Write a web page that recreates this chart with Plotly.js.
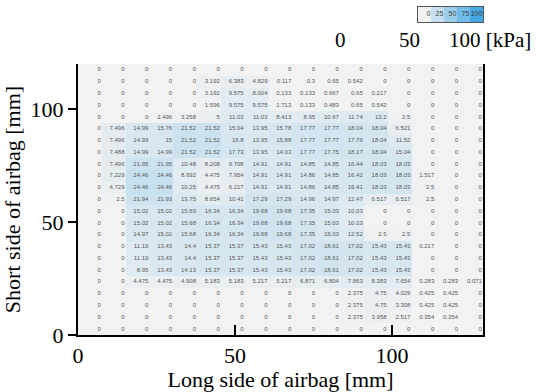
<!DOCTYPE html>
<html><head><meta charset="utf-8">
<script src="https://cdn.plot.ly/plotly-3.0.1.min.js"></script>
<style>html,body{margin:0;padding:0;background:#fff}</style>
</head><body><div id="chart" style="width:555px;height:392px"></div>
<script>
// Pressure table [kPa], rows listed from top (y high) to bottom (y = 0)
const row01 = [0,0,0,0,0,0,0,0,0,0,0,0,0,0,0,0,0];
const row02 = [0,0,0,0,0,3.192,6.383,4.829,0.117,0.3,0.65,0.542,0,0,0,0,0];
const row03 = [0,0,0,0,0,3.192,9.575,8.004,0.133,0.133,0.667,0.65,0.217,0,0,0,0];
const row04 = [0,0,0,0,0,1.596,9.575,9.575,1.713,0.133,0.483,0.65,0.542,0,0,0,0];
const row05 = [0,0,0,2.496,3.258,5,11.03,11.03,8.413,8.95,10.67,11.74,13.2,2.5,0,0,0];
const row06 = [0,7.496,14.99,15.76,21.52,21.52,15.04,13.95,15.78,17.77,17.77,18.04,18.04,6.521,0,0,0];
const row07 = [0,7.496,14.99,15,21.52,21.52,16.8,13.95,15.88,17.77,17.77,17.76,18.04,11.52,0,0,0];
const row08 = [0,7.488,14.99,14.99,21.52,21.52,17.73,13.95,14.03,17.77,17.75,18.17,18.04,15.04,0,0,0];
const row09 = [0,7.496,21.95,21.95,10.48,8.208,9.708,14.91,14.91,14.85,14.85,16.44,18.03,18.03,0,0,0];
const row10 = [0,7.229,24.46,24.46,8.692,4.475,7.954,14.91,14.91,14.86,14.85,16.42,18.03,18.03,1.517,0,0];
const row11 = [0,4.729,24.46,24.46,10.25,4.475,6.217,14.91,14.91,14.86,14.85,16.41,18.03,18.03,2.5,0,0];
const row12 = [0,2.5,21.94,21.93,13.75,8.654,10.41,17.29,17.29,14.96,14.97,12.47,6.517,6.517,2.5,0,0];
const row13 = [0,0,15.02,15.02,15.69,16.34,16.34,19.68,19.68,17.35,15.03,10.03,0,0,0,0,0];
const row14 = [0,0,15.02,15.02,15.68,16.34,16.34,19.68,19.68,17.35,15.03,10.03,0,0,0,0,0];
const row15 = [0,0,14.97,15.02,15.68,16.34,16.34,19.68,19.68,17.35,15.03,12.52,2.5,2.5,0,0,0];
const row16 = [0,0,11.19,13.43,14.4,15.37,15.37,15.43,15.43,17.02,18.61,17.02,15.43,15.43,0.217,0,0];
const row17 = [0,0,11.19,13.43,14.4,15.37,15.37,15.43,15.43,17.02,18.61,17.02,15.43,15.43,0,0,0];
const row18 = [0,0,8.95,13.43,14.13,15.37,15.37,15.43,15.43,17.02,18.61,17.02,15.43,15.43,0,0,0];
const row19 = [0,0,4.475,4.475,4.908,5.183,5.183,5.217,5.217,6.871,6.804,7.863,8.383,7.654,0.283,0.283,0.071];
const row20 = [0,0,0,0,0,0,0,0,0,0,0,2.375,4.75,4.029,0.425,0.425,0];
const row21 = [0,0,0,0,0,0,0,0,0,0,0,2.375,4.75,3.308,0.425,0.425,0];
const row22 = [0,0,0,0,0,0,0,0,0,0,0,2.375,3.958,2.517,0.354,0.354,0];
const row23 = [0,0,0,0,0,0,0,0,0,0,0,0,0,0,0,0,0];

const scaleValues = [0,25,50,75,100];
const scaleTickLabels = ['0','50','100 [kPa]'];
const xTicks = [0,50,100];
const yTicks = [0,50,100];

const rowsTopDown = [row01,row02,row03,row04,row05,row06,row07,row08,row09,row10,row11,row12,
  row13,row14,row15,row16,row17,row18,row19,row20,row21,row22,row23];
const z = rowsTopDown.slice().reverse();

const nCols = z[0].length, nRows = z.length;
const xMax = 129, yMax = 120;
const cw = xMax / nCols, ch = yMax / nRows;

const tx = [], ty = [], tt = [];
for (let r = 0; r < nRows; r++) for (let c = 0; c < nCols; c++) {
  tx.push((c + 1) * cw - 0.35); ty.push((r + 0.5) * ch); tt.push(String(z[r][c]));
}
const cs = [[0,'#f2f2f2'],[1,'#44a8e4']];
const serif = 'Liberation Serif, Times New Roman, serif';
const cellFont = {family:'Liberation Sans, Arial, sans-serif', size:6, color:'#595959'};

const traces = [
  {type:'heatmap', z:z, x0:cw/2, dx:cw, y0:ch/2, dy:ch, zmin:0, zmax:100,
   colorscale:cs, showscale:false, hoverinfo:'skip', xaxis:'x', yaxis:'y'},
  {type:'scatter', mode:'text', x:tx, y:ty, text:tt, textposition:'middle left',
   textfont:cellFont, hoverinfo:'skip', showlegend:false, xaxis:'x', yaxis:'y'},
  {type:'heatmap', z:[scaleValues], x0:0.5, dx:1, y0:0, dy:1, zmin:0, zmax:100,
   colorscale:cs, showscale:false, hoverinfo:'skip', xaxis:'x2', yaxis:'y2'},
  {type:'scatter', mode:'text', x:scaleValues.map((v,i)=>i+0.95), y:scaleValues.map(()=>0),
   text:scaleValues.map(String), textposition:'middle left',
   textfont:{family:'Liberation Sans, Arial, sans-serif', size:7, color:'#404040'},
   hoverinfo:'skip', showlegend:false, xaxis:'x2', yaxis:'y2'}
];

const H = 392, T = 5, B = 57, plotH = H - T - B;
const px2p = p => (H - B - p) / plotH;

const layout = {
  width:555, height:392, margin:{l:78, r:72, t:T, b:B},
  paper_bgcolor:'#fff', plot_bgcolor:'#fff', showlegend:false,
  xaxis:{range:[0,xMax], tickvals:xTicks, ticks:'inside', ticklen:10, tickwidth:2, tickcolor:'#000',
    showline:true, linewidth:2, linecolor:'#000', showgrid:false, zeroline:false,
    tickfont:{family:serif, size:22, color:'#000'},
    title:{text:'Long side of airbag [mm]', font:{family:serif, size:22, color:'#000'}, standoff:4},
    anchor:'y'},
  yaxis:{range:[0,yMax], domain:[0, px2p(64)], tickvals:yTicks, ticks:'outside', ticklen:8, tickwidth:2,
    tickcolor:'#000', showline:true, mirror:true, linewidth:2, linecolor:'#000', showgrid:false, zeroline:false,
    tickfont:{family:serif, size:22, color:'#000'},
    title:{text:'Short side of airbag [mm]', font:{family:serif, size:22, color:'#000'}, standoff:6},
    anchor:'x'},
  xaxis2:{domain:[(418-78)/405, 1], range:[0,5], anchor:'y2', showticklabels:false, ticks:'',
    showgrid:false, zeroline:false, showline:true, mirror:true, linecolor:'#555', linewidth:1},
  yaxis2:{domain:[px2p(22), px2p(7)], range:[-0.5,0.5], anchor:'x2', showticklabels:false, ticks:'',
    showgrid:false, zeroline:false, showline:true, mirror:true, linecolor:'#555', linewidth:1},
  annotations:[
    {xref:'paper', yref:'paper', x:(340-78)/405, y:px2p(40), text:scaleTickLabels[0], showarrow:false,
     font:{family:serif, size:21, color:'#000'}, xanchor:'center', yanchor:'middle'},
    {xref:'paper', yref:'paper', x:(409-78)/405, y:px2p(40), text:scaleTickLabels[1], showarrow:false,
     font:{family:serif, size:21, color:'#000'}, xanchor:'center', yanchor:'middle'},
    {xref:'paper', yref:'paper', x:(447-78)/405, y:px2p(40), text:scaleTickLabels[2], showarrow:false,
     font:{family:serif, size:21, color:'#000'}, xanchor:'left', yanchor:'middle'}
  ]
};
Plotly.newPlot('chart', traces, layout, {displayModeBar:false, staticPlot:true});
</script></body></html>
